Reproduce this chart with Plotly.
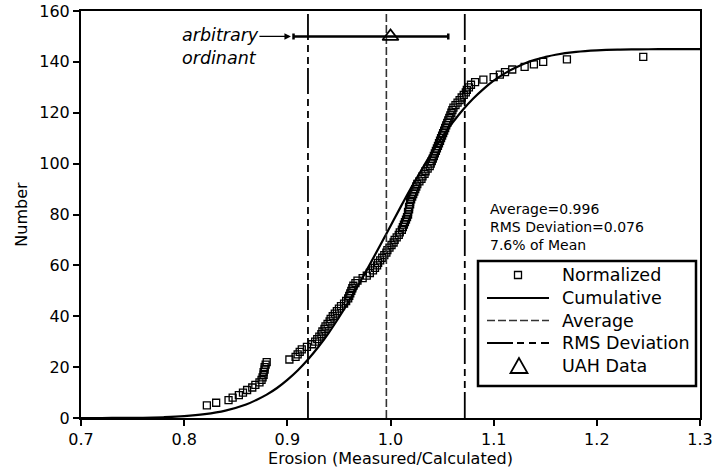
import plotly.graph_objects as go

# ---- data ----
norm_x = [0.822, 0.831, 0.843, 0.847, 0.853, 0.857, 0.861, 0.866, 0.869, 0.873,
          0.875, 0.876, 0.877, 0.877, 0.878, 0.878, 0.879, 0.880, 0.902, 0.908,
          0.910, 0.912, 0.914, 0.919, 0.924, 0.927, 0.929, 0.931, 0.933, 0.934,
          0.936, 0.937, 0.939, 0.941, 0.942, 0.944, 0.946, 0.948, 0.950, 0.952,
          0.955, 0.957, 0.959, 0.960, 0.961, 0.962, 0.963, 0.964, 0.966, 0.968,
          0.973, 0.977, 0.980, 0.983, 0.985, 0.987, 0.988, 0.990, 0.992, 0.994,
          0.996, 0.997, 0.999, 1.001, 1.003, 1.004, 1.006, 1.008, 1.009, 1.011,
          1.012, 1.013, 1.014, 1.015, 1.016, 1.017, 1.017, 1.018, 1.018, 1.019,
          1.019, 1.020, 1.021, 1.022, 1.023, 1.024, 1.025, 1.026, 1.028, 1.030,
          1.031, 1.033, 1.034, 1.036, 1.038, 1.039, 1.040, 1.041, 1.042, 1.043,
          1.044, 1.045, 1.046, 1.047, 1.048, 1.049, 1.050, 1.051, 1.052, 1.053,
          1.054, 1.055, 1.056, 1.057, 1.058, 1.059, 1.060, 1.061, 1.063, 1.065,
          1.067, 1.069, 1.071, 1.073, 1.074, 1.076, 1.078, 1.082, 1.090, 1.100,
          1.106, 1.111, 1.118, 1.130, 1.139, 1.148, 1.171, 1.245]
norm_y = [5, 6, 7, 8, 9, 10, 11, 12, 13, 14,
          15, 16, 17, 18, 19, 20, 21, 22, 23, 24,
          25, 26, 27, 28, 29, 30, 31, 32, 33, 34,
          35, 36, 37, 38, 39, 40, 41, 42, 43, 44,
          45, 46, 47, 48, 49, 50, 51, 52, 53, 54,
          55, 56, 57, 58, 59, 60, 61, 62, 63, 64,
          65, 66, 67, 68, 69, 70, 71, 72, 73, 74,
          75, 76, 77, 78, 79, 80, 81, 82, 83, 84,
          85, 86, 87, 88, 89, 90, 91, 92, 93, 94,
          95, 96, 97, 98, 99, 100, 101, 102, 103, 104,
          105, 106, 107, 108, 109, 110, 111, 112, 113, 114,
          115, 116, 117, 118, 119, 120, 121, 122, 123, 124,
          125, 126, 127, 128, 129, 130, 131, 132, 133, 134,
          135, 136, 137, 138, 139, 140, 141, 142]

cum_x = [0.70, 0.72, 0.74, 0.76, 0.78, 0.80, 0.82, 0.84, 0.86, 0.87, 0.88, 0.89,
         0.90, 0.91, 0.92, 0.93, 0.94, 0.95, 0.96, 0.97, 0.98, 0.99, 1.00, 1.01,
         1.02, 1.03, 1.04, 1.05, 1.06, 1.07, 1.08, 1.09, 1.10, 1.11, 1.12, 1.13,
         1.14, 1.15, 1.16, 1.18, 1.20, 1.22, 1.24, 1.26, 1.28, 1.30]
cum_y = [0.0, 0.0, 0.1, 0.1, 0.3, 0.7, 1.5, 2.9, 5.3, 7.1, 9.2, 11.8,
         15.0, 18.7, 23.0, 27.9, 33.4, 39.5, 46.1, 53.1, 60.4, 67.9, 75.5, 83.1,
         90.5, 97.5, 104.2, 110.4, 116.0, 121.1, 125.5, 129.3, 132.6, 135.3, 137.5, 139.4,
         140.8, 141.9, 142.8, 143.9, 144.5, 144.8, 144.9, 145.0, 145.0, 145.0]

average = 0.996
rms_dev = 0.076
rms_lines = [0.920, 1.072]

uah_x = [1.000]
uah_y = [150]
uah_err_plus = [0.056]
uah_err_minus = [0.094]

x_range = [0.7, 1.3]
y_range = [0, 160]
x_ticks = [0.7, 0.8, 0.9, 1.0, 1.1, 1.2, 1.3]
y_ticks = [0, 20, 40, 60, 80, 100, 120, 140, 160]

legend_labels = ["Normalized", "Cumulative", "Average", "RMS Deviation", "UAH Data"]

# ---- styling / layout ----
FONT = "DejaVu Sans, Verdana, sans-serif"
W, H = 716, 474
ML, MR, MT, MB = 81, 16, 11, 56
PW, PH = W - ML - MR, H - MT - MB

AVG_STYLE = dict(color="#333333", width=1.6, dash="8px,3px")
RMS_STYLE = dict(color="black", width=1.8, dash="26px,4px,7px,5px,7px,5px")
CUM_STYLE = dict(color="black", width=2.2)


def px(xp):
    return (xp - ML) / PW


def py(yp):
    return (H - MB - yp) / PH


fig = go.Figure()

fig.add_trace(go.Scatter(
    x=norm_x, y=norm_y, mode="markers", name=legend_labels[0], showlegend=False,
    marker=dict(symbol="square-open", size=7, color="black", line=dict(width=1.3)),
))
fig.add_trace(go.Scatter(
    x=cum_x, y=cum_y, mode="lines", name=legend_labels[1], line_shape="spline",
    line=CUM_STYLE, showlegend=False,
))
fig.add_trace(go.Scatter(
    x=[average, average], y=y_range, mode="lines", name=legend_labels[2],
    line=AVG_STYLE, showlegend=False,
))
fig.add_trace(go.Scatter(
    x=[rms_lines[0], rms_lines[0], None, rms_lines[1], rms_lines[1]],
    y=[y_range[0], y_range[1], None, y_range[0], y_range[1]],
    mode="lines", name=legend_labels[3], line=RMS_STYLE, showlegend=False,
))
fig.add_trace(go.Scatter(
    x=uah_x, y=uah_y, mode="markers", name=legend_labels[4], showlegend=False,
    marker=dict(symbol="triangle-up-open", size=14, color="black", line=dict(width=1.8)),
    error_x=dict(type="data", symmetric=False, array=uah_err_plus,
                 arrayminus=uah_err_minus, color="black", thickness=2.5, width=3),
))

# ---- annotations ----
fig.add_annotation(
    x=0.9035, y=uah_y[0], ax=0.8715, ay=uah_y[0], xref="x", yref="y",
    axref="x", ayref="y", text="", showarrow=True, arrowhead=2,
    arrowsize=1, arrowwidth=1.3, arrowcolor="black",
)
fig.add_annotation(
    x=0.796, y=146, xref="x", yref="y", xanchor="left", yanchor="middle",
    text="<i>arbitrary</i><br><i>ordinant</i>", align="left", showarrow=False,
    font=dict(family=FONT, size=17.5, color="black"),
)
fig.add_annotation(
    x=px(488), y=py(227), xref="paper", yref="paper", xanchor="left", yanchor="middle",
    text=f"Average={average:.3f}<br>RMS Deviation={rms_dev:.3f}<br>{rms_dev/average*100:.1f}% of Mean",
    align="left", showarrow=False,
    font=dict(family=FONT, size=14, color="black"),
)

# ---- legend box (drawn) ----
LEG = dict(left=478, right=696, top=261, bottom=386)
entry_y = [275, 298, 320.5, 343, 366]
sym_x0, sym_x1, sym_c, text_x = 487, 549, 518, 560

shapes = [dict(type="rect", xref="paper", yref="paper",
               x0=px(LEG["left"]), x1=px(LEG["right"]),
               y0=py(LEG["bottom"]), y1=py(LEG["top"]),
               line=dict(color="black", width=2.5), fillcolor="white", layer="above")]
# square symbol
shapes.append(dict(type="rect", xref="paper", yref="paper",
                   x0=px(sym_c - 3.5), x1=px(sym_c + 3.5),
                   y0=py(entry_y[0] + 3.5), y1=py(entry_y[0] - 3.5),
                   line=dict(color="black", width=1.3), layer="above"))
# line samples
for yy, st in [(entry_y[1], CUM_STYLE), (entry_y[2], AVG_STYLE), (entry_y[3], RMS_STYLE)]:
    shapes.append(dict(type="line", xref="paper", yref="paper",
                       x0=px(sym_x0), x1=px(sym_x1), y0=py(yy), y1=py(yy),
                       line=dict(color=st["color"], width=min(st["width"], 2),
                                 dash=st.get("dash", "solid")), layer="above"))
# triangle symbol
ty = entry_y[4]
shapes.append(dict(type="path", xref="paper", yref="paper",
                   path=(f"M {px(sym_c + 1)},{py(ty - 8)} L {px(sym_c - 7.5)},{py(ty + 7)} "
                         f"L {px(sym_c + 9.5)},{py(ty + 7)} Z"),
                   line=dict(color="black", width=1.8), layer="above"))

for lab, yy in zip(legend_labels, entry_y):
    fig.add_annotation(
        x=px(text_x), y=py(yy), xref="paper", yref="paper", xanchor="left",
        yanchor="middle", text=lab, showarrow=False,
        font=dict(family=FONT, size=17.5, color="black"),
    )

axis_common = dict(
    showgrid=False, zeroline=False, showline=True, linecolor="black", linewidth=2,
    mirror=True, ticks="outside", ticklen=6, tickwidth=1.5, tickcolor="black",
    tickfont=dict(family=FONT, size=16, color="black"), automargin=False,
)

fig.update_layout(
    width=W, height=H,
    margin=dict(l=ML, r=MR, t=MT, b=MB, autoexpand=False),
    paper_bgcolor="white", plot_bgcolor="white",
    font=dict(family=FONT, color="black"),
    xaxis=dict(range=x_range, tickvals=x_ticks, ticktext=[f"{v:.1f}" for v in x_ticks],
               title=dict(text="Erosion (Measured/Calculated)",
                          font=dict(family=FONT, size=16), standoff=4),
               **axis_common),
    yaxis=dict(range=y_range, tickvals=y_ticks,
               title=dict(text="Number", font=dict(family=FONT, size=16), standoff=8),
               **axis_common),
    shapes=shapes,
    showlegend=False,
)

fig.write_html("out.html")
